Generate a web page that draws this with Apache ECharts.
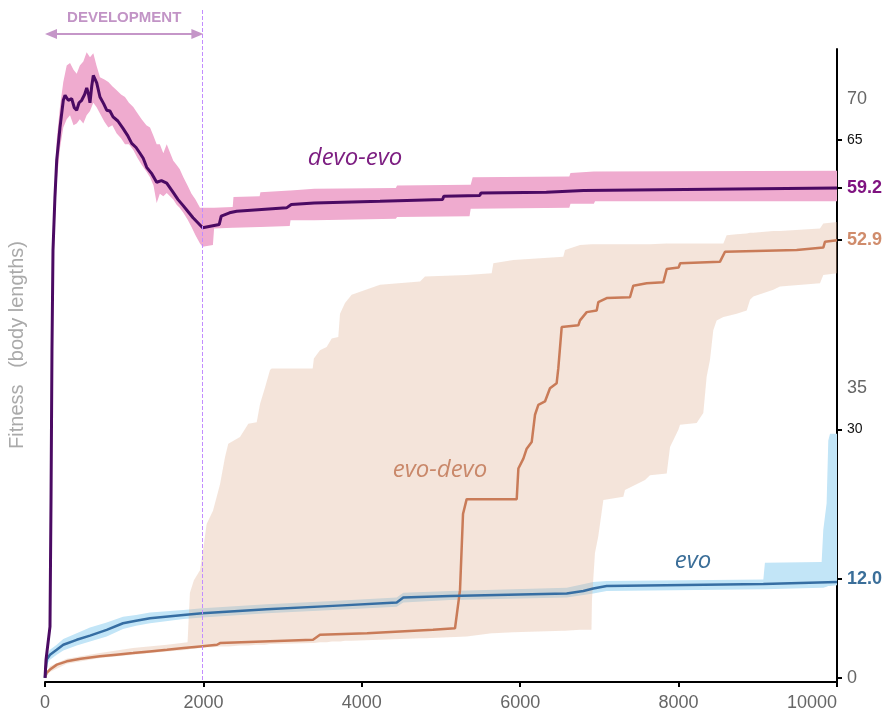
<!DOCTYPE html>
<html><head><meta charset="utf-8">
<script src="https://cdn.jsdelivr.net/npm/echarts@6/dist/echarts.min.js"></script>
<style>html,body{margin:0;padding:0;background:#fff}#c{width:887px;height:716px}</style>
</head><body><div id="c"></div>
<script>
// ---- data (generation, fitness) ----
const xTickInterval = 2000;
const yLabelValues = [0, 12.0, 30, 35, 52.9, 59.2, 65, 70];
const yLabelTexts  = ['0', '12.0', '30', '35', '52.9', '59.2', '65', '70'];
const yLabelStyles = ['big', 'evo', 'small', 'big', 'evodevo', 'devoevo', 'small', 'big'];
const yTickValues  = [0, 12.0, 30, 52.9, 59.2, 65];

const devoEvoLine = [
  [0,0],[13,2.2],[63,6.2],[76,21.5],[88,39.6],[101,51.7],[125,58],[148,62.6],[189,66.5],[231,69.8],[253,70.4],
  [294,69.8],[337,70.0],[370,68.9],[400,68.6],[430,69.5],[463,69.8],[500,70.5],[527,71.3],[550,70.5],[568,69.5],
  [590,71.5],[610,72.8],[653,71.9],[694,70.2],[740,69.4],[779,68.6],[820,68.5],[859,67.8],[920,67.3],[985,66.4],
  [1040,65.6],[1095,64.6],[1150,64.1],[1199,63.4],[1240,62.8],[1284,61.7],[1350,60.9],[1410,59.9],[1470,60.1],
  [1537,59.8],[1616,58.7],[1680,57.8],[1742,57.1],[1810,56.3],[1869,55.6],[1930,55.0],[1990,54.4],
  [2200,54.8],[2225,55.8],[2330,56.2],[2420,56.4],[3050,56.8],[3110,57.2],[3400,57.4],[4230,57.6],[5020,57.8],
  [5035,58.2],[5490,58.3],[5505,58.6],[6330,58.7],[6345,58.9],[6800,58.9],[6815,59.1],[10000,59.2]
];
const devoEvoBand = [
  [0,0,0.5],[13,1.8,2.8],[63,5.5,7],[76,19,24],[88,36,43],[101,48,55],[125,55,60],[148,60,65],[189,64,69],
  [231,66.5,72],[274,67.5,74],[316,68,74.3],[360,66.8,73.5],[400,67,73],[440,67.5,74],[484,67,74.5],[526,68,75.6],
  [568,68.5,75],[610,69.5,75.5],[650,69,74],[694,68.2,72.6],[750,67.2,72.3],[800,66.5,72],[850,66.8,71.5],
  [905,65.8,71.0],[960,65.2,70.5],[1010,64.5,70.2],[1060,64.5,69.5],[1115,63.8,69.0],[1170,62.8,68.2],
  [1220,62,67.5],[1280,61.2,66.8],[1326,60.5,66.5],[1370,59.5,65.5],[1410,57.4,64.5],[1450,58.5,64.5],
  [1494,58.2,63.4],[1537,58.6,64.5],[1578,58.2,63.5],[1620,57.8,62.5],[1660,57.2,62],[1700,56.8,61.5],
  [1747,56.2,60.5],[1800,55.4,59.5],[1850,54.5,58.5],[1900,53.5,57.8],[1957,52.5,56.8],[1990,52.1,56.8],
  [2120,52.3,56.8],[2135,54.3,56.8],[2370,54.4,56.9],[2380,54.4,58.1],[2710,54.5,58.2],[2720,54.5,58.7],
  [3090,54.6,58.9],[3100,55.3,58.9],[3400,55.3,59.1],[4430,55.5,59.2],[4445,55.7,59.5],[5360,55.8,59.6],
  [5375,56.7,59.6],[5400,56.7,60.5],[6620,56.8,60.6],[6635,57.3,61.0],[6930,57.3,61.2],[6945,57.6,61.2],
  [10000,57.6,61.3]
];
const evoDevoLine = [
  [0,0],[20,0.6],[63,1.0],[150,1.6],[274,2.0],[450,2.3],[694,2.6],[900,2.8],[1111,3.0],[1320,3.2],[1540,3.4],
  [1750,3.6],[1957,3.8],[2172,4.0],[2210,4.2],[3384,4.6],[3472,5.2],[4066,5.4],[4899,5.8],[5177,6.0],[5202,6.2],
  [5240,10.6],[5278,19.8],[5324,21.6],[5956,21.6],[5977,25.3],[6040,26.5],[6082,27.7],[6145,28.5],[6187,31.8],
  [6229,33.0],[6313,33.4],[6376,35.0],[6460,35.6],[6481,37.4],[6524,42.4],[6734,42.6],[6755,43.2],[6840,44.2],
  [6966,44.4],[6986,45.4],[7092,45.9],[7386,46.0],[7428,47.4],[7597,47.7],[7807,47.8],[7850,49.4],[8000,49.6],
  [8020,50.1],[8523,50.3],[8586,51.5],[9491,51.7],[9827,52.0],[9848,52.7],[10000,52.9]
];
const evoDevoBand = [
  [0,0,0.3],[63,0.7,1.4],[274,1.7,2.3],[694,2.4,3.0],[1111,2.8,3.6],[1540,3.2,4.0],[1800,3.4,4.3],[1830,3.5,10.3],
  [1880,3.5,11.8],[1957,3.6,13.0],[1995,3.6,15.4],[2041,3.7,18.6],[2121,3.7,20.2],[2210,3.8,23.4],[2273,3.8,26.7],
  [2314,3.8,28.3],[2462,3.9,29.1],[2567,3.9,30.7],[2673,4.0,30.9],[2715,4.0,33.1],[2778,4.0,35.1],[2841,4.1,37.2],
  [2862,4.1,37.4],[3380,4.2,37.4],[3395,4.2,38.6],[3472,4.3,39.6],[3556,4.3,40.0],[3620,4.4,41.0],[3703,4.4,41.2],
  [3725,4.4,44.0],[3788,4.5,45.3],[3872,4.5,46.3],[4230,4.6,47.5],[4735,4.8,47.9],[4798,4.8,48.5],[5324,5.0,48.7],
  [5640,5.4,48.9],[5661,5.4,50.1],[5913,5.5,50.5],[6544,5.7,50.9],[6566,5.7,51.7],[6755,5.8,52.3],[6900,5.8,52.4],
  [6906,9.4,52.4],[6944,15.1,52.4],[6986,17.1,52.4],[7050,21.5,52.4],[7302,21.9,52.4],[7323,22.7,52.4],
  [7576,23.9,52.4],[7639,24.5,52.4],[7850,24.7,52.5],[7892,27.9,52.5],[7997,30.0,52.5],[8018,30.6,52.5],
  [8228,30.8,52.5],[8312,32.0,52.5],[8354,36.4,52.5],[8396,38.4,52.5],[8438,42.0,52.5],[8480,43.2,52.5],
  [8565,43.6,52.5],[8607,43.7,53.5],[8733,44.0,53.6],[8860,44.4,53.7],[8902,45.7,53.8],[8943,46.1,53.8],
  [9196,46.9,54.0],[9280,47.3,54.0],[9785,47.7,54.3],[9827,48.7,54.9],[10000,48.9,55.1]
];
const evoLine = [
  [0,0],[21,2.2],[63,2.8],[148,3.4],[231,4.0],[400,4.6],[568,5.1],[779,5.8],[985,6.6],[1150,6.9],[1326,7.2],
  [1747,7.6],[1986,7.8],[2799,8.3],[3636,8.7],[4441,9.1],[4524,9.7],[5114,9.9],[6587,10.2],[6797,10.5],
  [6923,10.8],[7092,11.1],[9070,11.35],[10000,11.6]
];
const evoBand = [
  [0,0,0.5],[21,1.6,2.8],[63,2.2,3.4],[148,2.8,4.0],[231,3.3,4.7],[400,3.9,5.4],[568,4.4,6.1],[779,5.0,6.7],
  [985,5.9,7.4],[1150,6.3,7.6],[1326,6.6,7.9],[1747,7.1,8.2],[1986,7.3,8.4],[2799,7.8,8.9],[3636,8.2,9.3],
  [4441,8.6,9.7],[4524,9.1,10.3],[5114,9.4,10.5],[6587,9.7,10.9],[6923,10.2,11.6],[7092,10.5,11.7],
  [9070,10.7,11.9],[9090,10.7,13.9],[9806,10.9,14.0],[9827,10.9,17.9],[9869,11.0,21.1],[9890,11.1,28.7],
  [9912,11.1,29.5],[10000,11.2,29.5]
];
const developmentEnd = 2000;
const seriesLabels = [
  {text: 'devo-evo', at: [3914, 62.8], color: '#7d1f82'},
  {text: 'evo-devo', at: [4987, 25.1], color: '#c9886a'},
  {text: 'evo',      at: [8182, 14.1], color: '#3b6e98'}
];

// ---- chart ----
const FONT = '"Liberation Sans", Arial, sans-serif';
function band(name, rows, color, z) {
  return {type:'custom', name:name, data:rows, encode:{x:0, y:[1,2]}, silent:true, z:z,
    renderItem:function(params, api){
      if (params.dataIndex !== 0) return null;
      const top = rows.map(r=>api.coord([r[0], r[2]]));
      const bot = rows.map(r=>api.coord([r[0], r[1]])).reverse();
      return {type:'polygon', shape:{points:top.concat(bot)}, style:{fill:color, stroke:null}};
    }};
}
function line(name, rows, color, w) {
  return {type:'line', name:name, data:rows, symbol:'none', showSymbol:false,
          lineStyle:{color:color, width:w}, silent:true, z:5};
}
const chart = echarts.init(document.getElementById('c'), null, {renderer:'canvas'});
const option = {
  animation:false,
  backgroundColor:'#fff',
  grid:{left:45, right:50, top:49, bottom:34, containLabel:false, outerBoundsMode:'none'},
  xAxis:{type:'value', min:0, max:10000, interval:xTickInterval,
    axisLine:{onZero:false, lineStyle:{color:'#000', width:2}},
    axisTick:{length:5, lineStyle:{color:'#000', width:2}},
    splitLine:{show:false},
    axisLabel:{color:'#666', fontSize:18, fontFamily:FONT, margin:12, alignMaxLabel:'right',
      formatter:v=>String(v)}},
  yAxis:{type:'value', position:'right', min:-0.5, max:76,
    axisLine:{show:true, onZero:false, lineStyle:{color:'#000', width:2}},
    axisTick:{show:true, customValues:yTickValues, length:5, lineStyle:{color:'#000', width:2}},
    splitLine:{show:false},
    axisLabel:{customValues:yLabelValues, margin:10,
      formatter:function(v){
        const i = yLabelValues.findIndex(a=>Math.abs(a-v)<1e-6);
        if (i<0) return '';
        return '{'+yLabelStyles[i]+'|'+yLabelTexts[i]+'}';
      },
      rich:{
        big:{fontSize:18, color:'#666', fontFamily:FONT},
        small:{fontSize:14, color:'#111', fontFamily:FONT},
        devoevo:{fontSize:18, fontWeight:'bold', color:'#7f1380', fontFamily:FONT},
        evodevo:{fontSize:18, fontWeight:'bold', color:'#d08c6c', fontFamily:FONT},
        evo:{fontSize:18, fontWeight:'bold', color:'#3a6e99', fontFamily:FONT}
      }}},
  series:[
    band('evo', evoBand, '#c2e5f7', 1),
    band('evodevo', evoDevoBand, 'rgba(224,178,149,0.35)', 2),
    band('devoevo', devoEvoBand, '#efabcf', 2),
    line('evo-devo', evoDevoLine, '#c97b58', 2.5),
    line('evo', evoLine, '#366ea3', 2.5),
    line('devo-evo', devoEvoLine, '#4b0a63', 3)
  ]
};
chart.setOption(option);

// ---- annotations positioned from the axes ----
const px = (x,y)=>chart.convertToPixel({xAxisIndex:0, yAxisIndex:0}, [x,y]);
const x0 = px(0,0)[0], xd = px(developmentEnd,0)[0], yb = px(0,-0.5)[1];
const xdl = Math.round(xd) - 0.5;
const arrowY = 34, ac = '#c596c8';
const g = [
  {type:'line', shape:{x1:xdl, y1:10, x2:xdl, y2:yb}, style:{stroke:'#c28cff', lineWidth:1, lineDash:[4,2]}, z:10},
  {type:'line', shape:{x1:x0+8, y1:arrowY, x2:xd-8, y2:arrowY}, style:{stroke:ac, lineWidth:2}, z:10},
  {type:'polygon', shape:{points:[[x0,arrowY],[x0+12,arrowY-5],[x0+12,arrowY+5]]}, style:{fill:ac}, z:10},
  {type:'polygon', shape:{points:[[xd,arrowY],[xd-12,arrowY-5],[xd-12,arrowY+5]]}, style:{fill:ac}, z:10},
  {type:'text', x:(x0+xd)/2, y:18, style:{text:'DEVELOPMENT', fill:'#c294c6', font:'bold 15px '+FONT,
    align:'center', verticalAlign:'middle', textAlign:'center', textVerticalAlign:'middle'}, z:10},
  {type:'text', x:17, y:345, rotation:Math.PI/2, style:{text:'Fitness   (body lengths)', fill:'#aaaaaa',
    font:'20px '+FONT, align:'center', verticalAlign:'middle', textAlign:'center', textVerticalAlign:'middle'}, z:10}
];
seriesLabels.forEach(s=>{
  const p = px(s.at[0], s.at[1]);
  g.push({type:'text', x:p[0], y:p[1], style:{text:s.text, fill:s.color, font:'italic 24px "Open Sans", Lato, sans-serif',
    align:'center', verticalAlign:'middle', textAlign:'center', textVerticalAlign:'middle'}, z:10});
});
chart.setOption({graphic:g});
</script></body></html>
